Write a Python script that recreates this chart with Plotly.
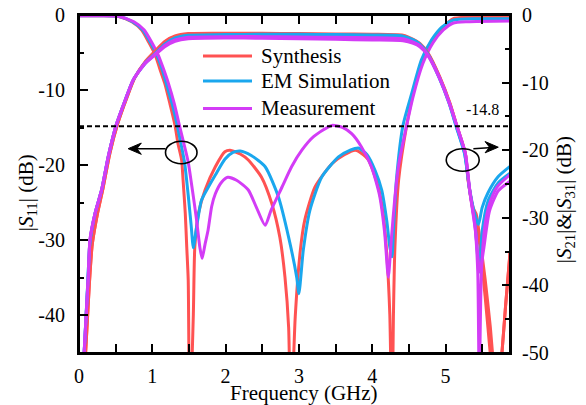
import plotly.graph_objects as go

# ---------------- data ----------------
# |S11| (left axis, dB)
syn_s11_f = [0, 0.3, 0.54, 0.72, 0.855, 0.95, 1.04, 1.10, 1.17, 1.24, 1.31, 1.35, 1.40, 1.42, 1.45, 1.47, 1.49, 1.51,
             1.56, 1.58, 1.63, 1.72, 1.86, 1.99, 2.06, 2.2, 2.31, 2.49, 2.63, 2.74, 2.81, 2.86, 2.89, 2.95, 3.02, 3.08,
             3.22, 3.45, 3.62, 3.77, 3.88, 3.95, 4.08, 4.15, 4.20, 4.24, 4.27, 4.29, 4.31, 4.36, 4.47, 4.56, 4.69,
             4.83, 4.97, 5.1, 5.3, 5.6, 5.88]
syn_s11_db = [-0.1, -0.1, -0.2, -0.9, -2.0, -3.6, -5.3, -7.1, -9.1, -11.8, -14.7, -17.1, -19.3, -22.0, -26.4, -30.9,
              -35.3, -55, -39.8, -30.9, -26.4, -23.3, -20.2, -18.2, -18.0, -18.5, -19.3, -21.6, -25.1, -29.6, -34.9,
              -41.6, -55, -40.2, -31.3, -27.3, -22.9, -19.8, -18.6, -18.0, -18.6, -19.3, -22.8, -26.5, -32.0, -39.8,
              -55, -39.8, -30.9, -22.0, -14.7, -10.4, -6.0, -3.3, -1.6, -0.5, -0.3, -0.3, -0.3]

em_s11_f = [0, 0.3, 0.55, 0.73, 0.87, 0.97, 1.06, 1.13, 1.19, 1.27, 1.34, 1.39, 1.44, 1.49, 1.53, 1.56, 1.60, 1.67,
            1.76, 1.86, 1.99, 2.1, 2.2, 2.35, 2.54, 2.72, 2.86, 2.97, 3.0, 3.06, 3.15, 3.31, 3.54, 3.7, 3.81, 3.93,
            4.04, 4.13, 4.2, 4.24, 4.27, 4.29, 4.33, 4.42, 4.54, 4.67, 4.81, 4.95, 5.1, 5.4, 5.88]
em_s11_db = [-0.1, -0.1, -0.2, -0.9, -2.0, -3.6, -5.3, -7.1, -9.1, -11.8, -14.7, -17.1, -19.6, -24.0, -28.0, -31.0,
             -28.5, -24.7, -23.0, -21.3, -19.2, -18.3, -18.1, -18.7, -20.2, -24.2, -29.6, -34.9, -37.1, -31.3, -26.0,
             -21.6, -18.9, -18.0, -17.7, -18.6, -20.7, -23.3, -27.5, -30.9, -32.2, -28.7, -22.0, -14.7, -10.4, -6.0,
             -3.3, -1.6, -0.7, -0.5, -0.5]

meas_s11_f = [0, 0.3, 0.55, 0.75, 0.89, 0.99, 1.08, 1.15, 1.22, 1.30, 1.37, 1.43, 1.49, 1.55, 1.60, 1.65, 1.68, 1.72,
              1.76, 1.81, 1.86, 1.95, 2.03, 2.15, 2.31, 2.42, 2.54, 2.62, 2.77, 2.9, 3.04, 3.2, 3.45, 3.6, 3.72, 3.85,
              3.99, 4.1, 4.17, 4.22, 4.26, 4.31, 4.36, 4.47, 4.56, 4.69, 4.83, 4.97, 5.1, 5.3, 5.88]
meas_s11_db = [-0.1, -0.1, -0.2, -0.9, -2.0, -3.6, -5.3, -7.1, -9.1, -11.8, -14.7, -17.1, -19.6, -23.5, -27.0, -31.0,
               -32.4, -30.5, -28.7, -25.5, -23.8, -22.2, -21.6, -22.0, -23.3, -25.6, -28.0, -26.0, -22.9, -20.2,
               -18.0, -16.2, -14.7, -15.0, -15.8, -17.5, -20.2, -24.0, -29.0, -34.9, -30.0, -24.2, -20.0, -14.7,
               -10.8, -6.5, -3.7, -2.0, -1.1, -0.9, -0.8]

# |S21| and |S31| (right axis, dB)
syn_s21_f = [0.09, 0.14, 0.18, 0.25, 0.33, 0.42, 0.53, 0.65, 0.76, 0.91, 1.04, 1.17, 1.31, 1.49, 2.0, 2.5, 3.0, 3.5,
             4.0, 4.42, 4.56, 4.65, 4.76, 4.92, 5.06, 5.15, 5.27, 5.31, 5.38, 5.47, 5.54, 5.61, 5.66, 5.72, 5.77,
             5.82, 5.88]
syn_s21_db = [-50, -40, -34, -29.5, -25.5, -20.5, -16.0, -12.3, -9.3, -6.8, -5.3, -3.9, -3.1, -2.75, -2.7, -2.7,
              -2.75, -2.8, -2.85, -3.0, -3.6, -4.2, -5.6, -9.1, -13.0, -16.2, -20.4, -24.4, -29.3, -34.2, -41.6,
              -50, -56, -56, -50, -43, -35.2]
syn_s31_f = [0.09, 0.14, 0.18, 0.25, 0.33, 0.42, 0.53, 0.65, 0.76, 0.91, 1.04, 1.17, 1.31, 1.49, 2.0, 2.5, 3.0, 3.5,
             4.0, 4.42, 4.56, 4.65, 4.76, 4.92, 5.06, 5.15, 5.27, 5.31, 5.38, 5.42, 5.47, 5.54, 5.61, 5.66, 5.72,
             5.77, 5.82, 5.88]
syn_s31_db = [-50, -40, -34, -29.5, -25.5, -20.5, -16.0, -12.3, -9.3, -6.9, -5.4, -4.0, -3.2, -2.9, -2.85, -2.85,
              -2.9, -2.95, -3.0, -3.15, -3.7, -4.3, -5.7, -9.2, -13.1, -16.3, -20.5, -24.6, -28.6, -29.5, -33.2,
              -39.0, -46, -52, -55, -50, -43, -35.2]

em_s21_f = [0.07, 0.12, 0.15, 0.22, 0.31, 0.40, 0.51, 0.63, 0.74, 0.90, 1.04, 1.17, 1.31, 1.49, 2.0, 2.5, 3.0, 3.5,
            4.0, 4.4, 4.55, 4.64, 4.75, 4.91, 5.05, 5.14, 5.26, 5.33, 5.40, 5.45, 5.5, 5.58, 5.72, 5.88]
em_s21_db = [-50, -39.5, -33.5, -29.3, -25.8, -20.9, -16.2, -12.6, -9.6, -7.1, -5.7, -4.3, -3.4, -3.0, -2.9, -2.85,
             -2.85, -2.9, -2.95, -3.05, -3.6, -4.2, -5.6, -9.1, -13.0, -16.2, -20.4, -25.8, -29.5, -31.0, -28.5,
             -26.3, -23.9, -22.4]
em_s31_f = [0.07, 0.12, 0.15, 0.22, 0.31, 0.40, 0.51, 0.63, 0.74, 0.90, 1.04, 1.17, 1.31, 1.49, 2.0, 2.5, 3.0, 3.5,
            4.0, 4.4, 4.55, 4.64, 4.75, 4.91, 5.05, 5.14, 5.26, 5.33, 5.40, 5.46, 5.5, 5.58, 5.72, 5.88]
em_s31_db = [-50, -39.5, -33.5, -29.3, -25.8, -20.9, -16.2, -12.6, -9.6, -7.2, -5.8, -4.4, -3.5, -3.1, -3.0, -3.0,
             -3.0, -3.05, -3.1, -3.2, -3.7, -4.3, -5.7, -9.2, -13.1, -16.3, -20.5, -26.0, -30.5, -38.0, -32.0,
             -27.5, -24.8, -23.4]

meas_s21_f = [0.07, 0.127, 0.15, 0.22, 0.31, 0.40, 0.51, 0.63, 0.74, 0.90, 1.04, 1.17, 1.31, 1.49, 2.0, 2.5, 3.0,
              3.5, 4.0, 4.42, 4.56, 4.65, 4.76, 4.92, 5.06, 5.15, 5.27, 5.33, 5.40, 5.44, 5.46, 5.49, 5.54, 5.6, 5.7,
              5.88]
meas_s21_db = [-50, -38.6, -33.2, -29.3, -25.8, -20.9, -16.2, -12.6, -9.6, -7.1, -5.8, -4.5, -3.7, -3.3, -3.2, -3.2,
               -3.25, -3.3, -3.35, -3.5, -4.0, -4.5, -5.9, -9.3, -13.2, -16.2, -20.4, -25.8, -31.0, -38.0, -55,
               -38.0, -31.0, -28.0, -25.5, -23.6]
meas_s31_f = [0.07, 0.127, 0.15, 0.22, 0.31, 0.40, 0.51, 0.63, 0.74, 0.90, 1.04, 1.17, 1.31, 1.49, 2.0, 2.5, 3.0,
              3.5, 4.0, 4.42, 4.56, 4.65, 4.76, 4.92, 5.06, 5.15, 5.27, 5.33, 5.41, 5.47, 5.52, 5.6, 5.72, 5.88]
meas_s31_db = [-50, -38.6, -33.2, -29.3, -25.8, -20.9, -16.2, -12.6, -9.6, -7.2, -5.9, -4.7, -3.9, -3.5, -3.4, -3.45,
               -3.5, -3.6, -3.7, -3.8, -4.2, -4.7, -6.0, -9.4, -13.3, -16.3, -20.5, -26.0, -32.0, -38.0, -34.7,
               -29.0, -26.0, -24.6]

# tick values / labels
x_ticks = [0, 1, 2, 3, 4, 5]
x_tick_labels = ["0", "1", "2", "3", "4", "5"]
x_minor = [0.5, 1.5, 2.5, 3.5, 4.5, 5.5]
y_left_ticks = [0, -10, -20, -30, -40]
y_left_labels = ["0", "-10", "-20", "-30", "-40"]
y_left_minor = [-5, -15, -25, -35]
y_right_ticks = [0, -10, -20, -30, -40, -50]
y_right_labels = ["0", "-10", "-20", "-30", "-40", "-50"]
y_right_minor = [-5, -15, -25, -35, -45]

series_names = ["Synthesis", "EM Simulation", "Measurement"]
threshold_db = -14.8

# ---------------- styling ----------------
FONT = "Liberation Serif, Times New Roman, serif"
RED = "#FF5252"
BLUE = "#1AA7EE"
MAG = "#D33CF6"
colors = [RED, BLUE, MAG]
LW = 3

fig = go.Figure()

s11_sets = [(syn_s11_f, syn_s11_db), (em_s11_f, em_s11_db), (meas_s11_f, meas_s11_db)]
s21_sets = [(syn_s21_f, syn_s21_db), (em_s21_f, em_s21_db), (meas_s21_f, meas_s21_db)]
s31_sets = [(syn_s31_f, syn_s31_db), (em_s31_f, em_s31_db), (meas_s31_f, meas_s31_db)]

for i, name in enumerate(series_names):
    c = colors[i]
    fig.add_trace(go.Scatter(x=s21_sets[i][0], y=s21_sets[i][1], yaxis="y2", mode="lines",
                             name=name + " |S21|", legendgroup=name, showlegend=False,
                             line=dict(color=c, width=LW, shape="spline", smoothing=0.6)))
    fig.add_trace(go.Scatter(x=s31_sets[i][0], y=s31_sets[i][1], yaxis="y2", mode="lines",
                             name=name + " |S31|", legendgroup=name, showlegend=False,
                             line=dict(color=c, width=LW, shape="spline", smoothing=0.6)))
    fig.add_trace(go.Scatter(x=s11_sets[i][0], y=s11_sets[i][1], yaxis="y", mode="lines",
                             name=name, legendgroup=name, showlegend=False,
                             line=dict(color=c, width=LW, shape="spline", smoothing=0.6)))

axis_common = dict(showgrid=False, zeroline=False, showline=True, linecolor="black", linewidth=2,
                   ticks="inside", tickcolor="black", tickwidth=2, automargin=False,
                   tickfont=dict(family=FONT, size=20, color="black"))

fig.update_layout(
    width=586, height=405,
    margin=dict(l=79, r=76, t=15, b=52, autoexpand=False),
    paper_bgcolor="white", plot_bgcolor="white",
    font=dict(family=FONT, size=20, color="black"),
    showlegend=False,
    xaxis=dict(range=[0, 5.88], tickmode="array", tickvals=x_ticks, ticktext=x_tick_labels,
               ticklen=9, mirror="allticks", ticklabelstandoff=4,
               minor=dict(tickvals=x_minor, ticklen=5, tickwidth=2, tickcolor="black", ticks="inside"),
               **axis_common),
    yaxis=dict(range=[-45, 0], tickmode="array", tickvals=y_left_ticks, ticktext=y_left_labels,
               ticklen=9, ticklabelstandoff=8,
               minor=dict(tickvals=y_left_minor, ticklen=5, tickwidth=2, tickcolor="black", ticks="inside"),
               **axis_common),
    yaxis2=dict(range=[-50, 0], overlaying="y", side="right", anchor="x",
                tickmode="array", tickvals=y_right_ticks, ticktext=y_right_labels,
                ticklen=8, ticklabelstandoff=6,
                minor=dict(tickvals=y_right_minor, ticklen=5, tickwidth=2, tickcolor="black", ticks="inside"),
                **axis_common),
)

# closed frame around the plot area
fig.add_shape(type="rect", xref="paper", yref="paper", x0=0, x1=1, y0=0, y1=1,
              line=dict(color="black", width=2), fillcolor="rgba(0,0,0,0)", layer="above")

# dashed threshold line
fig.add_shape(type="line", xref="paper", x0=0, x1=1, yref="y", y0=threshold_db, y1=threshold_db,
              line=dict(color="black", width=2, dash="5px,3px"))
fig.add_annotation(x=5.50, y=-12.6, xref="x", yref="y", text=str(threshold_db), showarrow=False,
                   font=dict(family=FONT, size=16, color="black"))

# ellipses + arrows (drawn as shapes)
fig.add_shape(type="circle", xref="x", yref="y", x0=1.18, x1=1.61, y0=-16.8, y1=-19.8,
              line=dict(color="black", width=1.6))
fig.add_shape(type="line", xref="x", yref="y", x0=1.18, x1=0.70, y0=-17.8, y1=-17.8,
              line=dict(color="black", width=1.6))
fig.add_shape(type="path", xref="x", yref="y",
              path="M 0.67,-17.8 L 0.85,-17.05 L 0.79,-17.8 L 0.85,-18.55 Z",
              fillcolor="black", line=dict(color="black", width=1))
fig.add_shape(type="circle", xref="x", yref="y", x0=5.01, x1=5.46, y0=-17.8, y1=-20.8,
              line=dict(color="black", width=1.6))
fig.add_shape(type="line", xref="x", yref="y", x0=5.38, x1=5.69, y0=-17.8, y1=-17.6,
              line=dict(color="black", width=1.6))
fig.add_shape(type="path", xref="x", yref="y",
              path="M 5.72,-17.6 L 5.54,-16.85 L 5.60,-17.6 L 5.54,-18.35 Z",
              fillcolor="black", line=dict(color="black", width=1))

# legend (drawn manually)
leg_y = [0.8787, 0.8047, 0.7234]
for i, name in enumerate(series_names):
    fig.add_shape(type="line", xref="paper", yref="paper", x0=0.2877, x1=0.4014, y0=leg_y[i], y1=leg_y[i],
                  line=dict(color=colors[i], width=LW))
    fig.add_annotation(x=0.4176, y=leg_y[i], xref="paper", yref="paper", text=name, showarrow=False,
                       xanchor="left", yanchor="middle", font=dict(family=FONT, size=21, color="black"))

# axis titles
fig.add_annotation(x=0.521, y=-0.1195, xref="paper", yref="paper", text="Frequency (GHz)", showarrow=False,
                   xanchor="center", yanchor="middle", font=dict(family=FONT, size=21, color="black"))
fig.add_annotation(x=-0.1206, y=0.473, xref="paper", yref="paper", text="|<i>S</i><sub>11</sub>| (dB)",
                   showarrow=False, textangle=-90, xanchor="center", yanchor="middle",
                   font=dict(family=FONT, size=21, color="black"))
fig.add_annotation(x=1.1276, y=0.455, xref="paper", yref="paper",
                   text="|<i>S</i><sub>21</sub>|&amp;|<i>S</i><sub>31</sub>| (dB)",
                   showarrow=False, textangle=-90, xanchor="center", yanchor="middle",
                   font=dict(family=FONT, size=21, color="black"))

# remove the default 8px page margin so the figure sits at the window's top-left corner
fig.write_html("out.html", config={"displayModeBar": False},
               post_script="document.body.style.margin='0px';")
